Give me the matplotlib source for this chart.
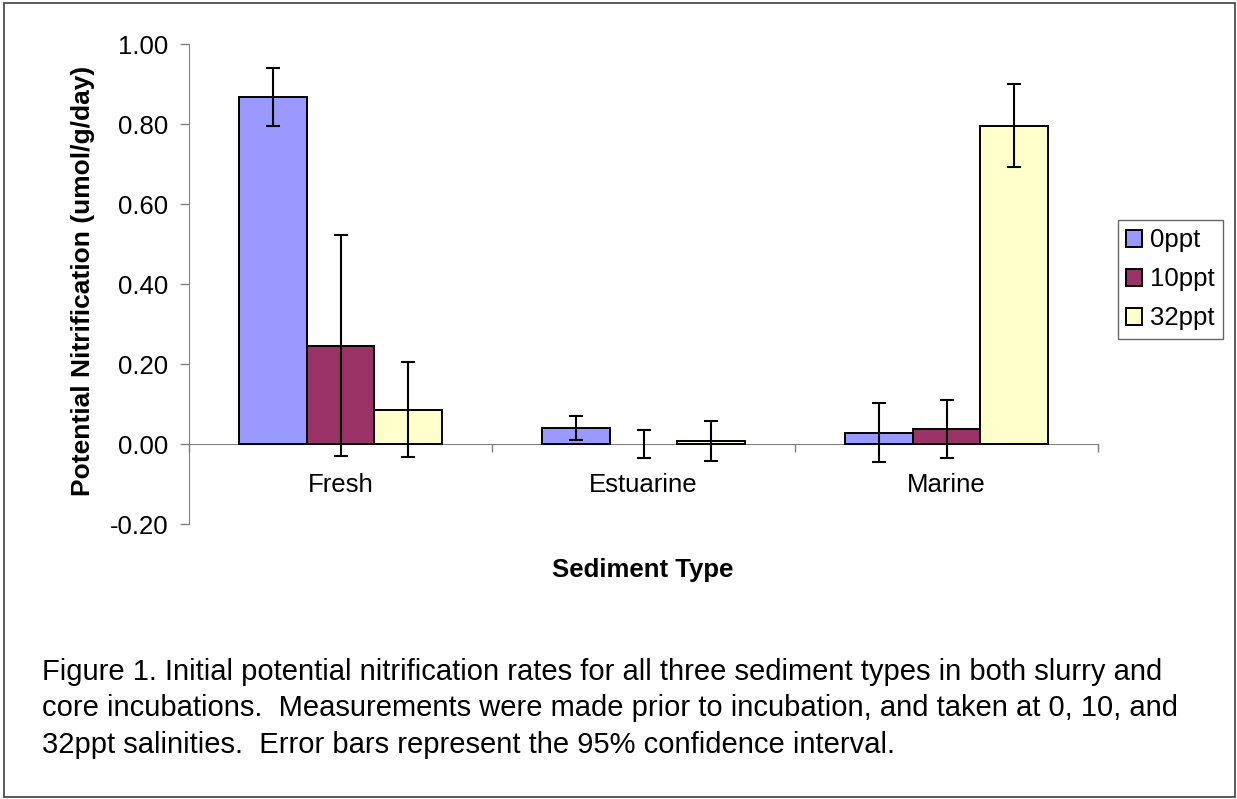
import matplotlib
matplotlib.use("Agg")
import matplotlib.pyplot as plt
import numpy as np
from matplotlib.patches import Rectangle

plt.rcParams['font.family'] = ['Liberation Sans', 'DejaVu Sans']

categories = ["Fresh", "Estuarine", "Marine"]
series = ["0ppt", "10ppt", "32ppt"]
values_0ppt = [0.868, 0.040, 0.028]
values_10ppt = [0.246, 0.000, 0.037]
values_32ppt = [0.086, 0.007, 0.796]
err_0ppt = [0.072, 0.031, 0.074]
err_10ppt = [0.277, 0.036, 0.073]
err_32ppt = [0.119, 0.050, 0.104]
colors = ["#9999FF", "#993366", "#FFFFCC"]
yticks = [-0.20, 0.00, 0.20, 0.40, 0.60, 0.80, 1.00]
caption_lines = [
    "Figure 1. Initial potential nitrification rates for all three sediment types in both slurry and",
    "core incubations.  Measurements were made prior to incubation, and taken at 0, 10, and",
    "32ppt salinities.  Error bars represent the 95% confidence interval.",
]

W, H = 1237, 799
fig = plt.figure(figsize=(W / 100, H / 100), dpi=100)
fig.patch.set_facecolor("white")

# outer border
fig.patches.append(Rectangle((4 / W, 1 - 797 / H), (1235 - 4) / W, (797 - 3) / H,
                             transform=fig.transFigure, fill=False,
                             edgecolor="#404040", linewidth=1.2))

left, right = 189 / W, 1098 / W
top, bottom = 1 - 44 / H, 1 - 524 / H
ax = fig.add_axes([left, bottom, right - left, top - bottom])

all_vals = [values_0ppt, values_10ppt, values_32ppt]
all_errs = [err_0ppt, err_10ppt, err_32ppt]
x = np.arange(len(categories)) + 0.5
bw = 0.2235
handles = []
for i, (vals, errs, col, name) in enumerate(zip(all_vals, all_errs, colors, series)):
    pos = x + (i - 1) * bw
    lws = [0 if abs(v) < 0.004 else 1.4 for v in vals]
    b = ax.bar(pos, vals, width=bw, color=col, edgecolor="black", linewidth=lws,
               label=name, zorder=2)
    handles.append(b)
    ax.errorbar(pos, vals, yerr=errs, fmt="none", ecolor="black",
                elinewidth=1.5, capsize=4.7, capthick=1.5, zorder=3)

ax.set_xlim(0, 3)
ax.set_ylim(-0.2, 1.0)
ax.set_yticks(yticks)
ax.set_yticklabels([f"{t:.2f}" for t in yticks])
ax.tick_params(axis="y", direction="out", length=6.5, width=1, color="#808080",
               labelsize=18.5, pad=8.5)

ax.set_xticks([0, 1, 2, 3])
ax.set_xticklabels([])
ax.set_xticks(x, minor=True)
ax.set_xticklabels(categories, minor=True)
ax.tick_params(axis="x", which="major", direction="out", length=6, width=1, color="#808080")
ax.tick_params(axis="x", which="minor", length=0, labelsize=18.5, pad=21)

for s in ["top", "right"]:
    ax.spines[s].set_visible(False)
ax.spines["bottom"].set_position(("data", 0))
ax.spines["bottom"].set_color("#808080")
ax.spines["left"].set_color("#808080")
ax.spines["bottom"].set_zorder(1)

fig.text(83 / W, 1 - 281 / H, "Potential Nitrification (umol/g/day)", rotation=90,
         ha="center", va="center", fontsize=19, fontweight="bold")
fig.text(643 / W, 1 - 570 / H, "Sediment Type", ha="center", va="center",
         fontsize=18.5, fontweight="bold")

leg = fig.legend(handles=handles, labels=series, loc="upper left",
                 bbox_to_anchor=(1118 / W, 1 - 220 / H), fontsize=18.5,
                 frameon=True, fancybox=False, edgecolor="#404040",
                 handlelength=0.62, handleheight=0.62, handletextpad=0.3,
                 labelspacing=0.58, borderpad=0.33, borderaxespad=0)
leg.get_frame().set_linewidth(1.0)

baselines = [680, 716, 753]
for line, yb in zip(caption_lines, baselines):
    fig.text(42 / W, 1 - yb / H, line, ha="left", va="baseline", fontsize=21)

fig.savefig("out.png", dpi=100)
